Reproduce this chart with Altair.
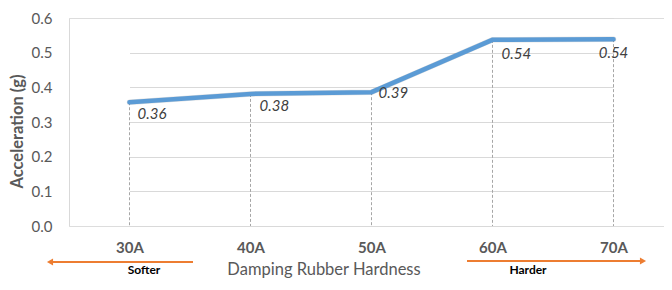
import altair as alt
import pandas as pd

categories = ["30A", "40A", "50A", "60A", "70A"]
acceleration = [0.357, 0.381, 0.386, 0.537, 0.539]
labels = ["0.36", "0.38", "0.39", "0.54", "0.54"]
y_ticks = [0.0, 0.1, 0.2, 0.3, 0.4, 0.5, 0.6]

df = pd.DataFrame({"hardness": categories, "acc": acceleration, "label": labels})

W, H = 595, 208
FONT = "Lato"
GREY = "#595959"
ORANGE = "#ed7d31"
GRID = "#d9d9d9"

x = alt.X(
    "hardness:N",
    sort=categories,
    scale=alt.Scale(type="point", padding=0, range=[60.5, 544.5]),
    axis=alt.Axis(
        title=None, labelAngle=0, labelFont=FONT, labelFontSize=15,
        labelFontWeight="bold", labelColor=GREY, ticks=False, domain=False,
        grid=False, labelPadding=14,
    ),
)
y = alt.Y(
    "acc:Q",
    scale=alt.Scale(domain=[0, 0.6], nice=False),
    axis=alt.Axis(
        title="Acceleration (g)", values=y_ticks, format=".1f",
        labelFont=FONT, labelFontSize=15, labelColor=GREY, labelPadding=17,
        ticks=False, domain=True, domainColor=GRID, gridColor=GRID,
        titleFont=FONT, titleFontSize=16.5, titleFontWeight="bold",
        titleColor=GREY, titleAngle=270, titleBaseline="middle",
        titleX=-52, titleY=113,
    ),
)

base = alt.Chart(df)

drops = base.mark_rule(strokeDash=[3, 2], color="#a6a6a6", strokeWidth=1).encode(
    x=x, y=y, y2=alt.datum(0)
)
shadow = base.mark_line(color="#000000", opacity=0.12, strokeWidth=5.5, strokeCap="round").encode(
    x=x, y=y
)
line = base.mark_line(color="#5b9bd5", strokeWidth=4.5, strokeCap="round").encode(x=x, y=y)

# label offsets (style only)
offsets = {
    "30A": (8, 12, "left"),
    "40A": (9, 12, "left"),
    "50A": (7, 1, "left"),
    "60A": (9, 14, "left"),
    "70A": (0, 14, "center"),
}
label_layers = []
for cat, (dx, dy, al) in offsets.items():
    label_layers.append(
        base.transform_filter(alt.datum.hardness == cat)
        .mark_text(font=FONT, fontSize=15, fontStyle="italic", color="#404040",
                   align=al, baseline="middle", dx=dx, dy=dy)
        .encode(x=x, y=y, text="label:N")
    )

one = alt.Data(values=[{}])

def ann_text(txt, px, py, size, weight, color, baseline="middle"):
    return alt.Chart(one).mark_text(
        font=FONT, fontSize=size, fontWeight=weight, color=color,
        align="center", baseline=baseline
    ).encode(x=alt.value(px), y=alt.value(py), text=alt.value(txt))

x_title = ann_text("Damping Rubber Hardness", 255, 252, 16.5, "normal", GREY)
softer = ann_text("Softer", 75, 256, 12, "bold", "#000000", "alphabetic")
harder = ann_text("Harder", 459, 256, 12, "bold", "#000000", "alphabetic")

left_arrow = alt.Chart(one).mark_rule(color=ORANGE, strokeWidth=2).encode(
    x=alt.value(-17), x2=alt.value(124), y=alt.value(244)
)
left_head = alt.Chart(one).mark_point(
    shape="triangle-left", filled=True, size=50, color=ORANGE, opacity=1
).encode(x=alt.value(-19), y=alt.value(244))
right_arrow = alt.Chart(one).mark_rule(color=ORANGE, strokeWidth=2).encode(
    x=alt.value(398), x2=alt.value(572), y=alt.value(243)
)
right_head = alt.Chart(one).mark_point(
    shape="triangle-right", filled=True, size=50, color=ORANGE, opacity=1
).encode(x=alt.value(574), y=alt.value(243))

chart = alt.layer(
    drops, shadow, line, *label_layers, x_title, softer, harder,
    left_arrow, left_head, right_arrow, right_head,
).properties(
    width=W, height=H,
    autosize=alt.AutoSizeParams(type="none"),
    padding={"left": 61, "top": 10, "right": 0, "bottom": 52},
).configure_view(stroke=None).configure(font=FONT)

chart.save("out.html", embed_options={"renderer": "svg", "actions": False})
